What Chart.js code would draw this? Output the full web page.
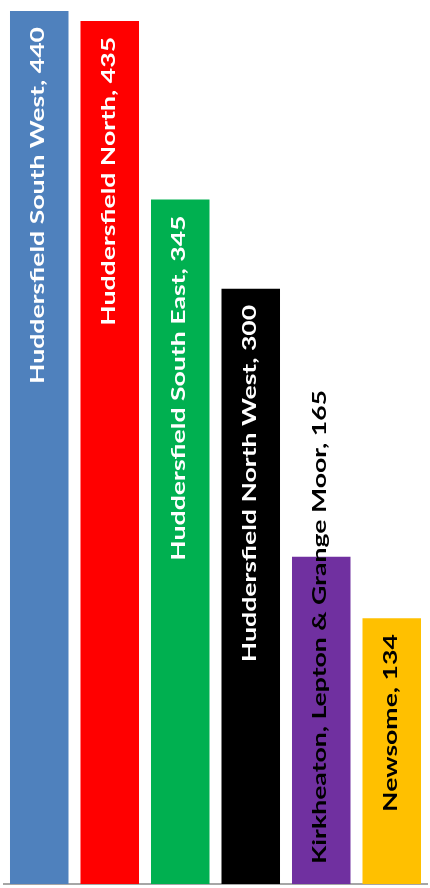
<!DOCTYPE html>
<html>
<head>
<meta charset="utf-8">
<script src="https://cdn.jsdelivr.net/npm/chart.js@4"></script>
<style>
  html, body { margin: 0; padding: 0; background: #fff; }
  #wrap { width: 430px; height: 888px; position: relative; }
</style>
</head>
<body>
<div id="wrap"><canvas id="myChart"></canvas></div>
<script>
const categories = ['Huddersfield South West', 'Huddersfield North', 'Huddersfield South East',
    'Huddersfield North West', 'Kirkheaton, Lepton & Grange Moor', 'Newsome'];
const values = [440, 435, 345, 300, 165, 134];
const barColors = ['#4F81BD', '#FF0000', '#00B050', '#000000', '#7030A0', '#FFC000'];
const labelColors = ['#ffffff', '#ffffff', '#ffffff', '#ffffff', '#000000', '#000000'];

// rotated labels drawn inside the top of each bar (stretched like the original)
const barLabels = {
    id: 'barLabels',
    afterDatasetsDraw(chart) {
        const ctx = chart.ctx;
        const meta = chart.getDatasetMeta(0);
        ctx.save();
        ctx.font = 'bold 18.5px Lato';
        const stretch = 357 / ctx.measureText(categories[0] + ', ' + values[0]).width;
        meta.data.forEach((bar, i) => {
            const text = categories[i] + ', ' + values[i];
            const len = ctx.measureText(text).width * stretch;
            let top = bar.y + 16;
            if (top + len > bar.base - 20) top = bar.base - 20 - len;
            ctx.save();
            ctx.translate(bar.x + 5, top + len);
            ctx.rotate(-Math.PI / 2);
            ctx.scale(stretch, 1);
            ctx.fillStyle = labelColors[i];
            ctx.textAlign = 'left';
            ctx.textBaseline = 'alphabetic';
            ctx.fillText(text, 0, 0);
            ctx.restore();
        });
        ctx.restore();
    }
};

new Chart(document.getElementById('myChart'), {
    type: 'bar',
    data: {
        labels: categories,
        datasets: [{
            data: values,
            backgroundColor: barColors,
            borderWidth: 0,
            categoryPercentage: 1,
            barPercentage: 0.83
        }]
    },
    options: {
        responsive: true,
        maintainAspectRatio: false,
        animation: false,
        layout: { padding: { left: 4, right: 3, top: 11, bottom: 4 } },
        plugins: { legend: { display: false }, tooltip: { enabled: false } },
        scales: {
            x: {
                grid: { display: false, drawTicks: false, tickLength: 0 },
                ticks: { display: false, padding: 0 },
                border: { display: true, color: '#a6a6a6', width: 2 }
            },
            y: {
                display: false,
                min: 0,
                max: 440
            }
        }
    },
    plugins: [barLabels]
});
</script>
</body>
</html>
